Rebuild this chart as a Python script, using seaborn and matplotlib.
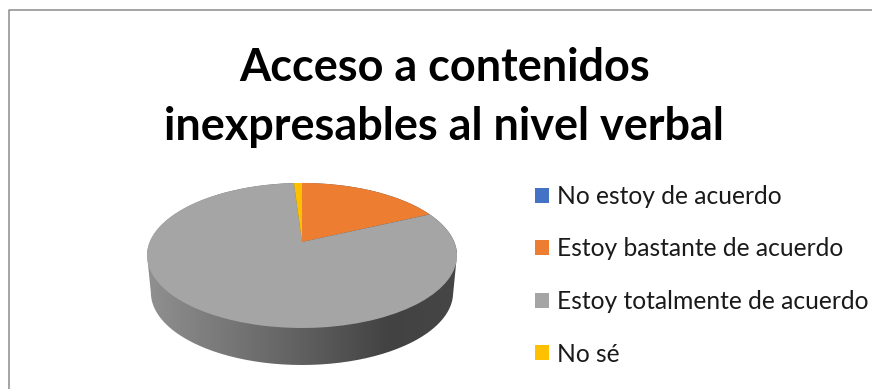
import numpy as np
import matplotlib
matplotlib.use("Agg")
import matplotlib.pyplot as plt
import seaborn as sns
from matplotlib.colors import LinearSegmentedColormap
from matplotlib.patches import Patch, PathPatch
from matplotlib.path import Path
from matplotlib.transforms import Transform

categories = ["No estoy de acuerdo", "Estoy bastante de acuerdo",
              "Estoy totalmente de acuerdo", "No sé"]
shares = [0, 18, 81, 1]
slice_colors = ["#4472C4", "#ED7D31", "#A5A5A5", "#FFC000"]
title_lines = ["Acceso a contenidos", "inexpresables al nivel verbal"]

W, H = 872, 389
CX, CY = 302, 242      # screen position of the pie's centre
SCALE_X, SCALE_Y = 152.3, 70.0
TILT = 0.186           # perspective foreshortening toward the back
DEPTH = 37


class TiltedDisc(Transform):
    """Perspective view of the unit disc, output in pixel-like coordinates."""
    input_dims = output_dims = 2

    def transform_non_affine(self, values):
        values = np.asarray(values)
        w = 1 + TILT * values[:, 1]
        return np.column_stack([CX + SCALE_X * values[:, 0] / w,
                                CY - SCALE_Y * values[:, 1] / w])


sns.set_theme(style="white")
plt.rcParams["font.family"] = ["Lato", "DejaVu Sans"]

fig = plt.figure(figsize=(W / 100, H / 100), dpi=100, facecolor="white")
ax = fig.add_axes([0, 0, 1, 1])
palette = sns.color_palette(slice_colors)

wedges, _ = ax.pie(shares, colors=palette, startangle=90, counterclock=False,
                   radius=1, wedgeprops={"linewidth": 0, "zorder": 3})
ax.set_aspect("auto")
tilted = TiltedDisc()
for wedge in wedges:
    wedge.set_transform(tilted + ax.transData)

# Outer wall of the disc: a grey ramp clipped to the extruded rim outline
t = np.linspace(0, 2 * np.pi, 361)
rim = tilted.transform(np.column_stack([np.cos(t), np.sin(t)]))
mid = (rim[:, 1].min() + rim[:, 1].max()) / 2
upper = rim[rim[:, 1] <= mid]
upper = upper[np.argsort(upper[:, 0])]
lower = rim[rim[:, 1] > mid]
lower = lower[np.argsort(lower[:, 0])[::-1]]
lower = np.column_stack([CX + (lower[:, 0] - CX) * 0.975, lower[:, 1] + DEPTH])
outline = np.vstack([upper, lower, upper[:1]])
wall_cmap = LinearSegmentedColormap.from_list(
    "wall", [(0, "#909090"), (0.5, "#606060"), (0.78, "#424242"), (1, "#464646")])
ramp = ax.imshow(np.linspace(0, 1, 256)[None, :], cmap=wall_cmap, aspect="auto",
                 extent=(rim[:, 0].min(), rim[:, 0].max(), mid + DEPTH + 90, mid - 90),
                 zorder=2, interpolation="bilinear")
clip = PathPatch(Path(outline), transform=ax.transData, facecolor="none", edgecolor="none")
ax.add_patch(clip)
ramp.set_clip_path(clip)

ax.set_xlim(0, W)
ax.set_ylim(H, 0)
ax.axis("off")

# Chart frame, open toward the right and bottom of the canvas
ax.plot([9, 9, W + 5], [H + 5, 10, 10], color="#8c8c8c", lw=1.1, clip_on=False, zorder=1)

ax.text(445, 81, title_lines[0], ha="center", va="baseline", fontsize=32.4,
        fontweight="bold", color="black")
ax.text(444, 140, title_lines[1], ha="center", va="baseline", fontsize=32.4,
        fontweight="bold", color="black")

handles = [Patch(facecolor=c, edgecolor="none") for c in palette]
ax.legend(handles, categories, loc="upper left", bbox_to_anchor=(535, 185),
          bbox_transform=ax.transData, frameon=False, fontsize=17.7,
          handlelength=0.57, handleheight=0.57, handletextpad=0.33,
          labelspacing=1.2, borderpad=0, borderaxespad=0, labelcolor="#1a1a1a")

fig.savefig("out.png", dpi=100)
